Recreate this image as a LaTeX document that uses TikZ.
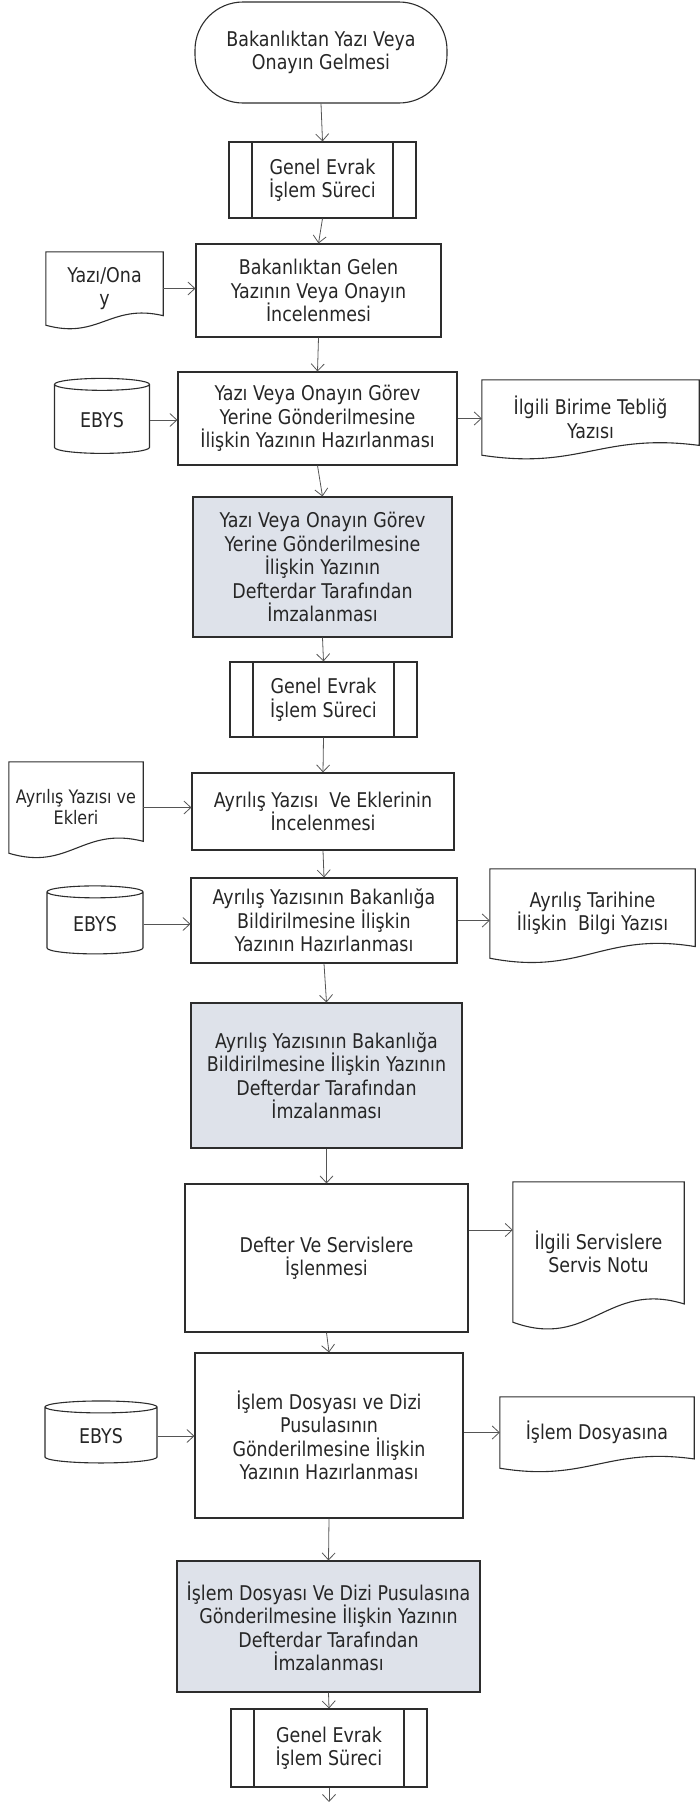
\documentclass[tikz,border=0pt]{standalone}
\usepackage{fontspec}
\setmainfont{DejaVu Sans}[FakeStretch=0.86]
\usetikzlibrary{arrows.meta,calc,shapes.geometric}
\definecolor{imzafill}{RGB}{222,226,234}
\definecolor{lineclr}{RGB}{45,45,45}
\definecolor{arrowclr}{RGB}{85,85,85}
% document symbol: straight top and sides, wavy bottom
\newcommand\docoutline[1]{%
  \draw[boxline] (#1.south west) -- (#1.north west) -- (#1.north east)
    -- ($(#1.south east)!0.13!(#1.north east)$)
    .. controls ($(#1.south west)!0.55!(#1.south east)+0.3*(#1.north west)-0.3*(#1.south west)$)
    and ($(#1.south west)!0.45!(#1.south east)+0.2*(#1.south west)-0.2*(#1.north west)$)
    .. (#1.south west) -- cycle;}
\begin{document}
\begin{tikzpicture}[x=1pt,y=-1pt,
    boxline/.style={draw=lineclr,line width=1.1pt},
    base/.style={font=\fontsize{20.3}{23.5}\selectfont,align=center,text=black!85,inner sep=2pt},
    stepbox/.style={base,boxline,rectangle},
    imzabox/.style={stepbox,fill=imzafill},
    endbox/.style={base,boxline,rectangle,rounded corners=48pt},
    procbox/.style={stepbox,path picture={
        \draw[lineclr,line width=1.1pt]
          ([xshift=23pt]path picture bounding box.south west)--([xshift=23pt]path picture bounding box.north west)
          ([xshift=-23pt]path picture bounding box.south east)--([xshift=-23pt]path picture bounding box.north east);}},
    docbox/.style={base,rectangle},
    dbbox/.style={base,boxline,cylinder,shape border rotate=90,aspect=0.25},
    flow/.style={draw=arrowclr,line width=0.8pt,-{Straight Barb[length=7pt,width=13pt]}}]
  \useasboundingbox (0,0) rectangle (700,1802);

  % main column
  \node[endbox,minimum width=252pt,minimum height=101pt] (start) at (321,52.5) {Bakanlıktan Yazı Veya\\Onayın Gelmesi};
  \node[procbox,minimum width=187pt,minimum height=76pt] (genel1) at (322.5,180) {Genel Evrak\\İşlem Süreci};
  \node[stepbox,minimum width=245pt,minimum height=93pt] (incele1) at (318.5,290.5) {Bakanlıktan Gelen\\Yazının Veya Onayın\\İncelenmesi};
  \node[stepbox,minimum width=279pt,minimum height=93pt] (hazirla1) at (317.5,418.5) {Yazı Veya Onayın Görev\\Yerine Gönderilmesine\\İlişkin Yazının Hazırlanması};
  \node[imzabox,minimum width=259pt,minimum height=140pt] (imza1) at (322.5,567) {Yazı Veya Onayın Görev\\Yerine Gönderilmesine\\İlişkin Yazının\\ Defterdar Tarafından\\İmzalanması};
  \node[procbox,minimum width=187pt,minimum height=75pt] (genel2) at (323.5,699.5) {Genel Evrak\\İşlem Süreci};
  \node[stepbox,minimum width=262pt,minimum height=77pt] (incele2) at (323,811.5) {Ayrılış Yazısı~ Ve Eklerinin\\İncelenmesi};
  \node[stepbox,minimum width=266pt,minimum height=85pt] (hazirla2) at (324,920.5) {Ayrılış Yazısının Bakanlığa\\Bildirilmesine İlişkin\\Yazının Hazırlanması};
  \node[imzabox,minimum width=271pt,minimum height=145pt] (imza2) at (326.5,1075.5) {Ayrılış Yazısının Bakanlığa\\Bildirilmesine İlişkin Yazının\\Defterdar Tarafından\\İmzalanması};
  \node[stepbox,minimum width=283pt,minimum height=148pt] (defter) at (326.5,1258) {Defter Ve Servislere\\İşlenmesi};
  \node[stepbox,minimum width=268pt,minimum height=165pt] (hazirla3) at (329,1435.5) {İşlem Dosyası ve Dizi\\Pusulasının\\Gönderilmesine İlişkin\\Yazının Hazırlanması};
  \node[imzabox,minimum width=303pt,minimum height=131pt] (imza3) at (328.5,1626.5) {İşlem Dosyası Ve Dizi Pusulasına\\Gönderilmesine İlişkin Yazının\\Defterdar Tarafından\\İmzalanması};
  \node[procbox,minimum width=196pt,minimum height=78pt] (genel3) at (329,1748) {Genel Evrak\\İşlem Süreci};
  \coordinate (son) at (329,1802);

  % left side
  \node[docbox,minimum width=117pt,minimum height=73pt] (yazi) at (104.5,288.5) {Yazı/Ona\\y};
  \docoutline{yazi}
  \node[dbbox,minimum width=95pt,minimum height=75pt] (ebys1) at (102,420) {EBYS};
  \node[docbox,minimum width=134pt,minimum height=91pt,font=\fontsize{18.6}{21}\selectfont] (ekler) at (76,807.5) {Ayrılış Yazısı ve\\Ekleri};
  \docoutline{ekler}
  \node[dbbox,minimum width=96pt,minimum height=68pt] (ebys2) at (95,924) {EBYS};
  \node[dbbox,minimum width=112pt,minimum height=62pt] (ebys3) at (101,1436) {EBYS};

  % right side
  \node[docbox,minimum width=217pt,minimum height=75pt] (teblig) at (590.5,417.5) {İlgili Birime Tebliğ\\Yazısı};
  \docoutline{teblig}
  \node[docbox,minimum width=205pt,minimum height=89pt] (bilgi) at (592.5,913.5) {Ayrılış Tarihine\\İlişkin~ Bilgi Yazısı};
  \docoutline{bilgi}
  \node[docbox,minimum width=171pt,minimum height=140pt] (servis) at (598.5,1252) {İlgili Servislere\\Servis Notu};
  \docoutline{servis}
  \node[docbox,minimum width=194pt,minimum height=71pt] (dosya) at (597,1432.5) {İşlem Dosyasına};
  \docoutline{dosya}
  \coordinate (servisin) at ($(servis.west)+(0,-22)$);

  % flow down the column
  \draw[flow] (start.south) -- (genel1.north);
  \draw[flow] (genel1.south) -- (incele1.north);
  \draw[flow] (incele1.south) -- (hazirla1.north);
  \draw[flow] (hazirla1.south) -- (imza1.north);
  \draw[flow] (imza1.south) -- (genel2.north);
  \draw[flow] (genel2.south) -- (incele2.north);
  \draw[flow] (incele2.south) -- (hazirla2.north);
  \draw[flow] (hazirla2.south) -- (imza2.north);
  \draw[flow] (imza2.south) -- (defter.north);
  \draw[flow] (defter.south) -- (hazirla3.north);
  \draw[flow] (hazirla3.south) -- (imza3.north);
  \draw[flow] (imza3.south) -- (genel3.north);
  \draw[flow] (genel3.south) -- (son);

  % inputs and outputs
  \draw[flow] (yazi.east) -- (yazi.east -| incele1.west);
  \draw[flow] (ebys1.east) -- (ebys1.east -| hazirla1.west);
  \draw[flow] (hazirla1.east) -- (hazirla1.east -| teblig.west);
  \draw[flow] (ekler.east) -- (ekler.east -| incele2.west);
  \draw[flow] (ebys2.east) -- (ebys2.east -| hazirla2.west);
  \draw[flow] (hazirla2.east) -- (hazirla2.east -| bilgi.west);
  \draw[flow] (defter.east |- servisin) -- (servisin);
  \draw[flow] (ebys3.east) -- (ebys3.east -| hazirla3.west);
  \draw[flow] (hazirla3.east |- dosya.west) -- (dosya.west);
\end{tikzpicture}
\end{document}
